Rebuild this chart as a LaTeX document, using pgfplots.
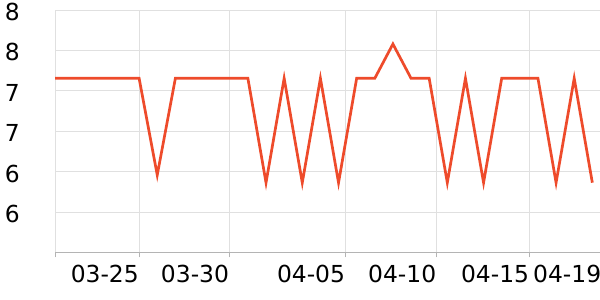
\documentclass[border=0pt]{standalone}
\usepackage{pgfplots}
\pgfplotsset{compat=1.18}
\usepackage{fontspec}
\setmainfont{DejaVu Sans}
\definecolor{lineorange}{RGB}{238,75,43}
\definecolor{gridgray}{RGB}{224,224,224}
\definecolor{axisgray}{RGB}{180,180,180}
\begin{document}
\begin{tikzpicture}
\begin{axis}[
  at={(55bp,47.7bp)}, anchor=south west,
  scale only axis,
  width=549.3bp, height=242.3bp,
  xmin=0, xmax=30.3, ymin=5, ymax=8,
  axis x line*=bottom, axis y line*=left,
  x axis line style={draw=axisgray, line width=0.9bp},
  y axis line style={draw=none},
  xtick={0,4.633,9.61,16.01,21.04,26.16,30.14},
  xticklabels={,03-25,03-30,04-05,04-10,04-15,04-19},
  ytick={5.5,6,6.5,7,7.5,8},
  yticklabels={6,6,7,7,8,8},
  grid=major,
  major grid style={draw=gridgray, line width=0.8bp},
  tick align=outside,
  major tick length=5bp,
  xtick style={draw=axisgray, line width=0.8bp},
  ytick style={draw=none},
  tick label style={font=\fontsize{23.5}{26}\selectfont, text=black},
  xticklabel style={anchor=north east, inner sep=0pt, yshift=-8bp},
  yticklabel style={anchor=east, inner sep=0pt, xshift=-30bp, yshift=-2bp},
  /pgf/number format/assume math mode=true,
  clip=false,
]
\addplot[color=lineorange, line width=2.7bp, line join=miter, mark=none] coordinates {
(0,7.154) (1.64,7.154) (2.64,7.154) (3.64,7.154) (4.64,7.154)
(5.64,5.957) (6.64,7.154) (7.64,7.154) (8.64,7.154) (9.64,7.154) (10.64,7.154)
(11.64,5.862) (12.64,7.154) (13.64,5.862) (14.64,7.154) (15.64,5.862)
(16.64,7.154) (17.64,7.154) (18.64,7.579) (19.64,7.154) (20.64,7.154)
(21.64,5.862) (22.64,7.154) (23.64,5.862) (24.64,7.154) (25.64,7.154) (26.64,7.154)
(27.64,5.862) (28.64,7.154) (29.64,5.862)
};
\end{axis}
\pgfresetboundingbox
\path[use as bounding box] (0,0) rectangle (600bp,300bp);
\end{tikzpicture}
\end{document}
